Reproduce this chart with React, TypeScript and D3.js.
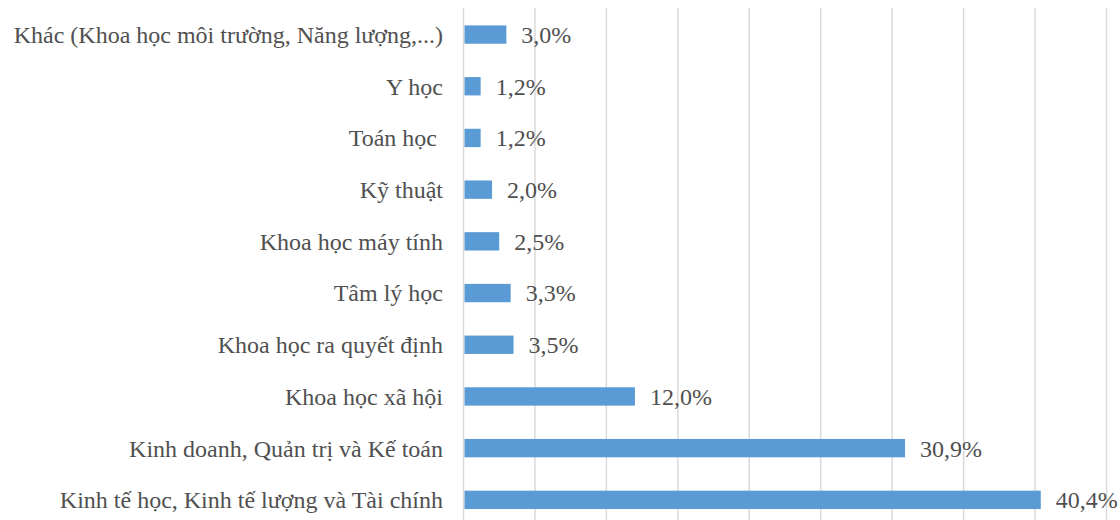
import React from "react";
import * as d3 from "d3";

const categories = [
  "Khác (Khoa học môi trường, Năng lượng,...)",
  "Y học",
  "Toán học ",
  "Kỹ thuật",
  "Khoa học máy tính",
  "Tâm lý học",
  "Khoa học ra quyết định",
  "Khoa học xã hội",
  "Kinh doanh, Quản trị và Kế toán",
  "Kinh tế học, Kinh tế lượng và Tài chính",
];
const values = [3.0, 1.2, 1.2, 2.0, 2.5, 3.3, 3.5, 12.0, 30.9, 40.4];
const gridTicks = [0, 5, 10, 15, 20, 25, 30, 35, 40, 45];

const W = 1120;
const H = 520;
const FONT = "Liberation Serif";
const TEXT = "#505050";
const FS = 24;

export default function App() {
  const x = d3.scaleLinear().domain([0, 45]).range([463.5, 1106.5]);
  const y = d3
    .scaleBand<string>()
    .domain(categories)
    .range([8.7, 525.7])
    .paddingInner(0.645)
    .paddingOuter(0.3225);
  const fmt = (v: number) => v.toFixed(1).replace(".", ",") + "%";

  return (
    <svg
      width={W}
      height={H}
      style={{ position: "absolute", left: 0, top: 0, background: "#fff" }}
    >
      <rect x={0} y={0} width={W} height={H} fill="#fff" />
      {gridTicks.map((t) => (
        <line
          key={t}
          x1={x(t)}
          x2={x(t)}
          y1={8}
          y2={H}
          stroke="#d9d9d9"
          strokeWidth={1.5}
        />
      ))}
      {categories.map((c, i) => {
        const yy = y(c)!;
        const cy = yy + y.bandwidth() / 2;
        return (
          <g key={c}>
            <rect
              x={x(0) + 1}
              y={yy}
              width={x(values[i]) - x(0) - 1}
              height={y.bandwidth()}
              fill="#5b9bd5"
            />
            <text
              x={443}
              y={cy}
              dy="0.35em"
              textAnchor="end"
              style={{ whiteSpace: "pre", fontFamily: FONT, fontSize: FS, fill: TEXT }}
            >
              {c}
            </text>
            <text
              x={x(values[i]) + 15}
              y={cy}
              dy="0.35em"
              textAnchor="start"
              style={{ fontFamily: FONT, fontSize: FS, fill: TEXT }}
            >
              {fmt(values[i])}
            </text>
          </g>
        );
      })}
    </svg>
  );
}
